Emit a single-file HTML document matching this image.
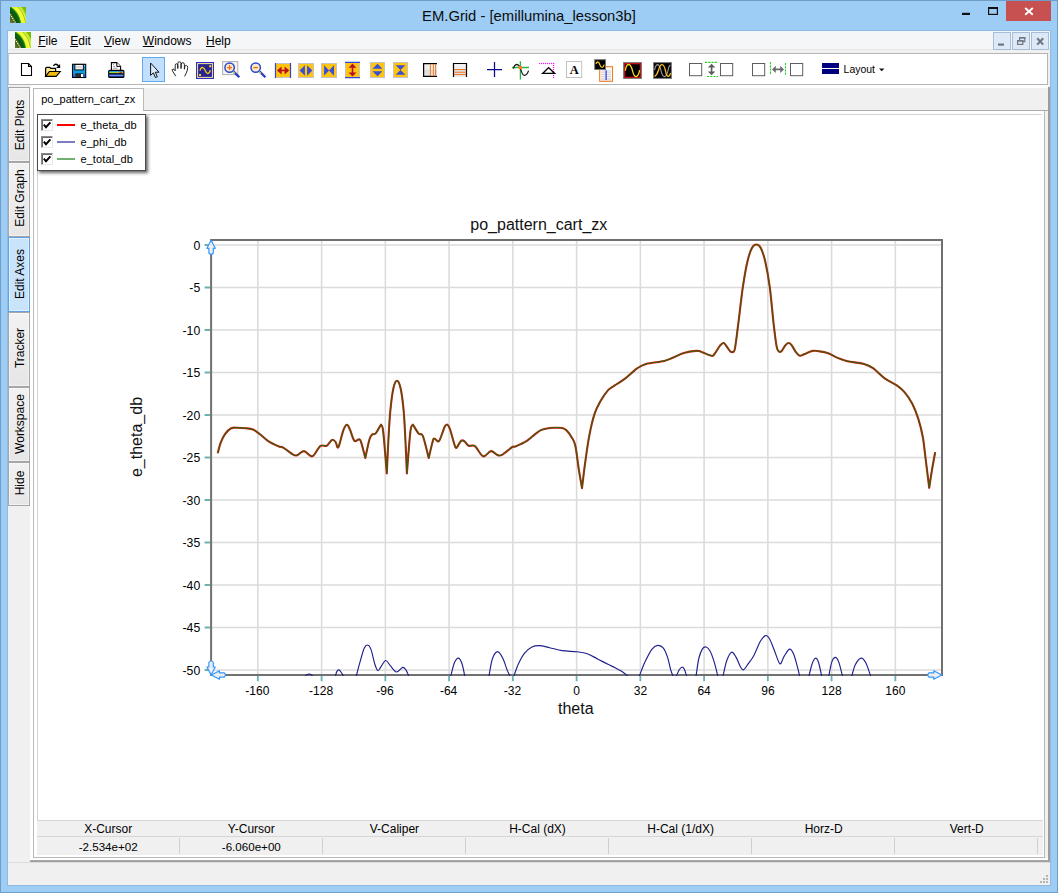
<!DOCTYPE html><html><head><meta charset="utf-8"><title>EM.Grid - [emillumina_lesson3b]</title><style>
html,body{margin:0;padding:0}
body{width:1058px;height:893px;overflow:hidden;position:relative;background:#9dcdf5;font-family:'Liberation Sans',sans-serif;font-size:12px;color:#000}
div,span{box-sizing:border-box}
.abs{position:absolute}
#frame{left:0;top:0;width:1058px;height:893px;border:1px solid #6f9dc9}
#client{left:8px;top:31px;width:1042px;height:854px;background:#f0f0f0}
#clientedge{left:7px;top:30px;width:1044px;height:856px;border:1px solid #8fbbe2}
#title{left:0;top:6px;width:1058px;text-align:center;font-size:14.8px;line-height:20px;color:#0c0c0c;letter-spacing:0px}
#menubar{left:8px;top:31px;width:1042px;height:22px;background:linear-gradient(#f5f6f7 0,#f5f6f7 17.6px,#e6e7e8 17.6px,#e6e7e8 18.6px,#f0f0f0 18.6px,#f0f0f0 100%)}
.menu{position:absolute;top:34px;font-size:12px;line-height:14px;white-space:nowrap}
.menu u{text-decoration:underline;text-underline-offset:1px}
#toolbar{left:8px;top:53px;width:1040px;height:32px;background:#fff;border:1px solid #b4b4b4;border-left-color:#c8c8c8}
.vtab{position:absolute;left:8px;width:22px;border:1px solid #a6a6a6;background:linear-gradient(#f2f2f2,#e6e6e6);box-shadow:inset 0 0 0 1px rgba(255,255,255,.45)}
.vtab span{position:absolute;left:calc(50% + 1.2px);top:50%;white-space:nowrap;transform:translate(-50%,-50%) rotate(-90deg);font-size:12px;line-height:14px}
#mdi{left:30px;top:85px;width:1018px;height:775px;background:#fff}
#mdishr{left:1048px;top:87px;width:2px;height:775px;background:#9c9c9c}
#mdishb{left:30px;top:860px;width:1020px;height:2px;background:linear-gradient(#ababab,#9a9a9a)}
#tabstrip{left:33px;top:88px;width:1015px;height:23px;background:#f0f0f0;border-bottom:1px solid #acacac}
#tab{left:33px;top:88px;width:111px;height:23px;background:#fff;border:1px solid #b9b9b9;border-bottom:none;font-size:11px;line-height:13px;padding:4px 0 0 7.2px;white-space:nowrap}
#panel{left:33px;top:111px;width:1012px;height:747px;border:1px solid #b9b9b9;border-top:none;background:#fff}
#inner{left:37px;top:114px;width:1005px;height:707px;border:1px solid #d2d2d2;border-right:none;border-bottom:none;background:#fff}
#table{left:37px;top:820px;width:1006px;height:35px;background:#f0f0f0;border-top:1px solid #d6d6d6}
#tline{left:37px;top:836px;width:1006px;height:1px;background:#d6d6d6}
.th{position:absolute;top:822px;width:143px;text-align:center;font-size:12px;line-height:14px;white-space:nowrap}
.td{position:absolute;top:840px;width:143px;text-align:center;font-size:11.6px;line-height:14px;white-space:nowrap}
.sep{position:absolute;top:838px;width:1px;height:16px;background:#cfcfcf}
#status{left:8px;top:862px;width:1042px;height:23px;background:#f0f0f0;border-top:1px solid #dcdcdc}
#legend{left:37px;top:114px;width:109px;height:57px;background:#fff;border:1px solid #4a4a4a;box-shadow:2px 2px 3px rgba(0,0,0,.6)}
.lg{position:absolute;left:42.4px;font-size:11px;line-height:13px;white-space:nowrap;letter-spacing:.12px}
.cb{position:absolute;left:3px;width:12px;height:12px;background:#fff;border:1px solid #8a8a8a;border-right-color:#e6e6e6;border-bottom-color:#e6e6e6;box-shadow:inset 1px 1px 0 #6a6a6a}
.ln{position:absolute;left:19px;width:18px;height:2px}
.mdib{position:absolute;top:32px;width:18px;height:18px;background:#dde9f6;border:1px solid #a8bdd6}
</style></head><body>
<div id="frame" class="abs"></div>
<div id="title" class="abs">EM.Grid - [emillumina_lesson3b]</div>
<svg style="position:absolute;left:10px;top:7px" width="16" height="16" viewBox="0 0 16 16" ><defs><radialGradient id="ig10" gradientUnits="userSpaceOnUse" cx="-11.4" cy="18.65" r="31" fx="-11.4" fy="18.65"><stop offset="0" stop-color="#5a7a12"/><stop offset=".54" stop-color="#4a6c10"/><stop offset=".57" stop-color="#0c5410"/><stop offset=".68" stop-color="#0e6412"/><stop offset=".715" stop-color="#3aa616"/><stop offset=".74" stop-color="#eef834"/><stop offset=".84" stop-color="#f6fc3c"/><stop offset=".865" stop-color="#8ec818"/><stop offset=".89" stop-color="#d8f044"/><stop offset=".93" stop-color="#c4e630"/><stop offset=".96" stop-color="#86c408"/><stop offset="1" stop-color="#7cbc00"/></radialGradient></defs><rect width="16" height="16" fill="url(#ig10)"/><path d="M0 7.2 L5.6 16" stroke="#f4f4e0" stroke-width="1.1" stroke-dasharray="1.2 1" fill="none"/><path d="M0 13.6 L1.8 16" stroke="#7a6a5a" stroke-width="1.4" fill="none"/></svg>
<div class="abs" style="left:1006px;top:1px;width:45px;height:20px;background:#c75050"></div>
<svg class="abs" style="left:950px;top:0" width="100" height="24" viewBox="950 0 100 24"><rect x="962" y="12.8" width="8" height="2.2" fill="#111"/><rect x="988.6" y="8" width="8.8" height="6.4" fill="none" stroke="#111" stroke-width="1.2"/><rect x="988" y="7" width="10" height="2" fill="#111"/><path d="M1025.2 8 L1032.8 14.8 M1032.8 8 L1025.2 14.8" stroke="#fff" stroke-width="1.9"/></svg>
<div id="clientedge" class="abs"></div>
<div id="client" class="abs"></div>
<div id="menubar" class="abs"></div>
<svg style="position:absolute;left:15px;top:32px" width="16" height="16" viewBox="0 0 16 16" ><defs><radialGradient id="ig15" gradientUnits="userSpaceOnUse" cx="-11.4" cy="18.65" r="31" fx="-11.4" fy="18.65"><stop offset="0" stop-color="#5a7a12"/><stop offset=".54" stop-color="#4a6c10"/><stop offset=".57" stop-color="#0c5410"/><stop offset=".68" stop-color="#0e6412"/><stop offset=".715" stop-color="#3aa616"/><stop offset=".74" stop-color="#eef834"/><stop offset=".84" stop-color="#f6fc3c"/><stop offset=".865" stop-color="#8ec818"/><stop offset=".89" stop-color="#d8f044"/><stop offset=".93" stop-color="#c4e630"/><stop offset=".96" stop-color="#86c408"/><stop offset="1" stop-color="#7cbc00"/></radialGradient></defs><rect width="16" height="16" fill="url(#ig15)"/><path d="M0 7.2 L5.6 16" stroke="#f4f4e0" stroke-width="1.1" stroke-dasharray="1.2 1" fill="none"/><path d="M0 13.6 L1.8 16" stroke="#7a6a5a" stroke-width="1.4" fill="none"/></svg>
<div class="menu" style="left:38.2px"><u>F</u>ile</div>
<div class="menu" style="left:70.2px"><u>E</u>dit</div>
<div class="menu" style="left:104px"><u>V</u>iew</div>
<div class="menu" style="left:142.8px"><u>W</u>indows</div>
<div class="menu" style="left:206px"><u>H</u>elp</div>
<div class="mdib" style="left:993px"></div>
<div class="mdib" style="left:1012px"></div>
<div class="mdib" style="left:1031px"></div>
<svg class="abs" style="left:990px;top:31px" width="60" height="22" viewBox="990 31 60 22"><rect x="998" y="43.5" width="6" height="2.2" fill="#6f7782"/><rect x="1019.6" y="37.6" width="5.2" height="4" fill="none" stroke="#6f7782" stroke-width="1.2"/><rect x="1019" y="37" width="6.4" height="1.6" fill="#6f7782"/><rect x="1017.6" y="40.6" width="5.2" height="3.8" fill="#dde9f6" stroke="#6f7782" stroke-width="1.2"/><rect x="1017" y="40" width="6.4" height="1.6" fill="#6f7782"/><path d="M1037.2 38.2 L1043.2 44.6 M1043.2 38.2 L1037.2 44.6" stroke="#6f7782" stroke-width="2.1"/></svg>
<div id="toolbar" class="abs"></div>
<svg style="position:absolute;left:0;top:54px" width="1058" height="31" viewBox="0 54 1058 31" font-family="'Liberation Sans',sans-serif">
<path d="M21.5 63.5 H28.5 L31.5 66.5 V75.5 H21.5 Z" fill="#fff" stroke="#000" stroke-width="1.1"/><path d="M28.5 63.5 V66.5 H31.5" fill="none" stroke="#000" stroke-width="1.1"/>
<path d="M45.6 76.2 V68.2 L46.6 67.3 H49.8 L50.8 68.4 H55.6 V71.2" fill="#fde88c" stroke="#000" stroke-width="1.25"/><path d="M45.6 76.3 L49.4 71.5 H60.2 L56.2 76.3 Z" fill="#f2bc0c" stroke="#000" stroke-width="1.15"/><path d="M53.4 65.8 Q55.8 62.6 58.6 66" fill="none" stroke="#000" stroke-width="1.35"/><path d="M60.1 63.9 V67.9 H56.1 Z" fill="#000"/>
<rect x="72.5" y="64.3" width="13.2" height="13.2" fill="#0a9fe6" stroke="#000" stroke-width="1.1"/><rect x="72.9" y="74.5" width="1.6" height="2.4" fill="#3344dd"/><rect x="83.7" y="74.5" width="1.6" height="2.4" fill="#3344dd"/><rect x="74.9" y="64.4" width="8.4" height="5.5" fill="#fff" stroke="#000" stroke-width=".95"/><rect x="76.2" y="65.8" width="5.6" height="2.6" fill="#d9d9d9"/><rect x="75.3" y="73.2" width="8" height="4" fill="#2c2c2c"/><rect x="81" y="74" width="2" height="3" fill="#fff"/><rect x="84.2" y="65.2" width="0.9" height="0.9" fill="#cfe8ff"/>
<path d="M111.4 70.4 V62.6 H116.8 L120.6 66.4 V70.4" fill="#fff" stroke="#000" stroke-width="1.1"/><path d="M116.8 62.6 V66.4 H120.6" fill="#fff" stroke="#000" stroke-width="1"/><path d="M113 64.5 h1 M113 66.3 h2.2 M113 68.2 h4.5" stroke="#888" stroke-width=".8"/><rect x="108.7" y="70.4" width="15.2" height="7" rx="1" fill="#2a4fd0" stroke="#000" stroke-width="1.1"/><rect x="109.4" y="71.3" width="13.8" height="1" fill="#22c8e8"/><rect x="109.4" y="72.1" width="13.8" height="1.1" fill="#b8e020"/><rect x="119.5" y="71.6" width="2.6" height="1.4" fill="#f03020"/><rect x="109.2" y="73.3" width="14.2" height="1.3" fill="#000"/><rect x="109.4" y="74.7" width="13.8" height="1.2" fill="#6a94ec"/>
<rect x="142.5" y="57.5" width="22" height="24" fill="#c1e0ff" stroke="#62a8ec" stroke-width="1"/>
<path d="M150.6 63 V75.4 L153.4 72.8 L155.4 77.6 L157.3 76.8 L155.3 72.2 H159 Z" fill="#dcedff" stroke="#111" stroke-width="1" stroke-linejoin="miter"/>
<path d="M175.8 76.2 L172.6 71.2 Q171.6 69.4 172.8 69 Q174 68.8 175.2 70.8 L175.2 65.2 Q175.3 63.8 176.5 63.8 Q177.7 63.9 177.8 65.2 L177.8 68.6 L177.8 63.2 Q177.9 61.8 179.4 61.8 Q180.9 61.9 181 63.2 L181 68.6 L181.2 64 Q181.4 62.6 182.9 62.7 Q184.3 62.9 184.4 64.2 L184.4 69.2 L184.8 66.6 Q185.2 65.3 186.4 65.5 Q187.7 65.8 187.7 67.4 Q187.6 70.2 186.4 72.8 Q185.2 75.2 184.6 76.4" fill="#fff" stroke="#1a1a1a" stroke-width="0.95" stroke-linejoin="round"/>
<rect x="196.5" y="62.5" width="17" height="16" fill="#26268e" stroke="#3030c8" stroke-width="1"/><rect x="197.6" y="63.6" width="14.8" height="13.8" fill="none" stroke="#ffe79a" stroke-width="1"/><path d="M200 70.6 Q200.8 67.3 202.4 67.3 Q204 67.5 205.2 70.6 Q206.4 73.7 207.8 73.7 Q209.4 73.5 210.3 70.2" fill="none" stroke="#ffd21c" stroke-width="1.25"/><rect x="199" y="74" width="2" height="2" fill="#ffd21c"/><rect x="209.2" y="65.2" width="2" height="2" fill="#ffd21c"/>
<rect x="222.6" y="61.6" width="15.2" height="13" fill="#f4f4f4" stroke="#b0b0b0" stroke-width="1"/>
<path d="M233.6 71.6 L239.3 77.3" stroke="#2b3bc4" stroke-width="2.3"/>
<path d="M233.2 71.8 l1.6 1.6" stroke="#b8e034" stroke-width="1.4"/>
<circle cx="229.6" cy="67.6" r="4.7" fill="#f6edc6" stroke="#3246cf" stroke-width="1.5"/>
<path d="M227.2 67.6 h4.8" stroke="#ff6a10" stroke-width="1.3"/>
<path d="M229.6 65.2 v4.8" stroke="#ff6a10" stroke-width="1.3"/>
<path d="M259.7 71.6 L265.4 77.3" stroke="#2b3bc4" stroke-width="2.3"/>
<path d="M259.3 71.8 l1.6 1.6" stroke="#b8e034" stroke-width="1.4"/>
<circle cx="255.7" cy="67.6" r="4.7" fill="#f6edc6" stroke="#3246cf" stroke-width="1.5"/>
<path d="M253.3 67.6 h4.8" stroke="#ff6a10" stroke-width="1.3"/>
<rect x="275.5" y="63.5" width="15" height="14" fill="#ffc410" stroke="#c4c4c4" stroke-width="1"/>
<path d="M275.5 63 V78 M290.5 63 V78" stroke="#3344d6" stroke-width="1.2"/>
<path d="M277 70.5 L281.6 66.4 V69.7 H284.6 V66.4 L289.2 70.5 L284.6 74.6 V71.3 H281.6 V74.6 Z" fill="#b80f1e"/>
<rect x="298.5" y="63.5" width="15" height="14" fill="#ffc410" stroke="#c4c4c4" stroke-width="1"/>
<path d="M299.6 70.5 L304.9 65.2 V75.8 Z M312.4 70.5 L307.1 65.2 V75.8 Z" fill="#3a4fd2"/>
<rect x="321.5" y="63.5" width="15" height="14" fill="#ffc410" stroke="#c4c4c4" stroke-width="1"/>
<path d="M324.1 65.3 L329.1 70.5 L324.1 75.7 Z M334 65.3 L329 70.5 L334 75.7 Z" fill="#3a4fd2"/>
<rect x="345.5" y="62.5" width="14" height="15" fill="#ffc410" stroke="#c4c4c4" stroke-width="1"/>
<path d="M345 62.4 H360 M345 77.6 H360" stroke="#3344d6" stroke-width="1.2"/>
<path d="M352.5 63.6 L356.4 67.8 H353.3 V72.4 H356.4 L352.5 76.6 L348.6 72.4 H351.7 V67.8 H348.6 Z" fill="#b80f1e"/>
<rect x="370.5" y="62.5" width="14" height="15" fill="#ffc410" stroke="#c4c4c4" stroke-width="1"/>
<path d="M377.5 63.8 L382.5 68.8 H372.5 Z M377.5 76.3 L382.5 71.3 H372.5 Z" fill="#3a4fd2"/>
<rect x="393.5" y="62.5" width="14" height="15" fill="#ffc410" stroke="#c4c4c4" stroke-width="1"/>
<path d="M395.7 65.2 H405.3 L400.5 70 Z M395.7 74.8 H405.3 L400.5 70 Z" fill="#3a4fd2"/>
<defs><linearGradient id="gg" x1="0" y1="0" x2="0" y2="1"><stop offset="0" stop-color="#f2f2f2"/><stop offset=".5" stop-color="#ececec"/><stop offset=".51" stop-color="#dcdcdc"/><stop offset="1" stop-color="#e6e6e6"/></linearGradient></defs>
<rect x="423.6" y="63.6" width="13.4" height="12.8" fill="url(#gg)"/><path d="M437 63.6 H423.6 V76.4 H437" fill="none" stroke="#000" stroke-width="1.2"/>
<path d="M430.4 64.2 V75.8 M433.4 64.2 V75.8 M435.6 64.2 V75.8" stroke="#f47820" stroke-width="1"/>
<rect x="453.5" y="63.5" width="13" height="13.4" fill="url(#gg)"/><path d="M453.5 77 V63.5 H466.5 V77" fill="none" stroke="#000" stroke-width="1.2"/>
<path d="M454.1 69.5 H465.9 M454.1 72.3 H465.9 M454.1 74.5 H465.9" stroke="#f47820" stroke-width="1.1"/>
<path d="M487 69.5 H502 M494.5 62 V77" stroke="#0a0a86" stroke-width="1.25"/>
<path d="M520.4 61.2 V79.5 M512 67.5 H529" stroke="#28b84a" stroke-width="1.3"/>
<path d="M513.4 68.6 Q514.6 64.6 516.6 64.4 Q518.6 64.4 520.2 67.6 Q522.2 75.4 524.6 75.4 Q527 75.2 528.6 70.6" fill="none" stroke="#111" stroke-width="1.2"/>
<rect x="518.8" y="66" width="3.2" height="3.2" fill="#ff7a18"/>
<rect x="539" y="62.9" width="1.1" height="1.2" fill="#ff10ff"/><rect x="541" y="62.9" width="1.1" height="1.2" fill="#ff10ff"/><rect x="543" y="62.9" width="1.1" height="1.2" fill="#ff10ff"/><rect x="545" y="62.9" width="1.1" height="1.2" fill="#ff10ff"/><rect x="547" y="62.9" width="1.1" height="1.2" fill="#ff10ff"/><rect x="549" y="62.9" width="1.1" height="1.2" fill="#ff10ff"/><rect x="551" y="62.9" width="1.1" height="1.2" fill="#ff10ff"/><rect x="553" y="62.9" width="1.1" height="1.2" fill="#ff10ff"/><rect x="552.9" y="63" width="1.3" height="1.1" fill="#ff10ff"/><rect x="552.9" y="65" width="1.3" height="1.1" fill="#ff10ff"/><rect x="552.9" y="67" width="1.3" height="1.1" fill="#ff10ff"/><rect x="552.9" y="69" width="1.3" height="1.1" fill="#ff10ff"/><rect x="552.9" y="71" width="1.3" height="1.1" fill="#ff10ff"/><rect x="552.9" y="73" width="1.3" height="1.1" fill="#ff10ff"/><rect x="552.9" y="75" width="1.3" height="1.1" fill="#ff10ff"/><rect x="552.9" y="77" width="1.3" height="1.1" fill="#ff10ff"/>
<path d="M542.6 73.4 L548.6 67.6 L554.6 73.4 Z" fill="none" stroke="#000" stroke-width="1.4" stroke-linejoin="miter"/>
<rect x="566.5" y="61.5" width="15.2" height="16" fill="#fff" stroke="#c2c2c2" stroke-width="1"/>
<text x="574.2" y="74" font-family="'Liberation Serif',serif" font-weight="bold" font-size="12.4" text-anchor="middle" fill="#000">A</text>
<rect x="599.7" y="66.7" width="12.8" height="14.6" fill="#fff" stroke="#f47a20" stroke-width="1.1"/>
<path d="M601.2 71 H611 M601.2 72.8 H611 M601.2 74.6 H611 M601.2 76.4 H611 M601.2 78.2 H611 M601.2 79.8 H611" stroke="#c8c8c8" stroke-width=".9"/><rect x="605" y="70" width="2.2" height="10.6" fill="#fff"/><path d="M606.1 70.2 V80.2" stroke="#2828e0" stroke-width="1.25"/>
<rect x="594.7" y="59.7" width="10.8" height="9.8" fill="#000" stroke="#777" stroke-width="1"/>
<path d="M596 64 Q596.4 61.8 597.8 61.8 Q599.2 62 599.8 64.6 Q600.6 67.4 602 67.4 Q603.6 67.2 604.2 64.6" fill="none" stroke="#ffd21c" stroke-width="1.2"/>
<rect x="623.6" y="62.6" width="17.8" height="15.8" fill="#000" stroke="#7a7a7a" stroke-width="1"/><rect x="624.7" y="63.7" width="15.6" height="13.6" fill="none" stroke="#e8101c" stroke-width="1.1"/>
<path d="M625.4 70.6 Q626.2 64.4 628.6 64.3 Q631 64.5 632.4 70.4 Q633.8 76.6 636 76.6 Q638.6 76.4 639.6 70.2" fill="none" stroke="#ffe21c" stroke-width="1.25"/>
<rect x="653.6" y="62.6" width="17.8" height="15.8" fill="#000" stroke="#7a7a7a" stroke-width="1"/>
<path d="M654.6 70 Q655.6 64.6 657.6 64.6 Q659.8 64.8 661 70.6 Q662.4 76.6 664.6 76.6 Q667 76.2 668.2 69.6 Q669 65.6 670.4 65" fill="none" stroke="#9a9a9a" stroke-width="1.1"/>
<path d="M654.6 76.6 Q657 75 658.6 70 Q660 64.5 662 64.5 Q664.2 64.8 665.4 70.6 Q666.6 76.6 668.4 76.4 Q669.8 76 670.6 73" fill="none" stroke="#ffc21c" stroke-width="1.25"/>
<rect x="689.5" y="63.5" width="12.2" height="12.2" fill="#fff" stroke="#5e5e5e" stroke-width="1"/>
<rect x="720.5" y="63.5" width="12.2" height="12.2" fill="#fff" stroke="#5e5e5e" stroke-width="1"/>
<rect x="752.5" y="63.5" width="12.2" height="12.2" fill="#fff" stroke="#5e5e5e" stroke-width="1"/>
<rect x="790.5" y="63.5" width="12.2" height="12.2" fill="#fff" stroke="#5e5e5e" stroke-width="1"/>
<path d="M705 62.4 H718 M707 76.5 H718" stroke="#22d022" stroke-width="1.1" stroke-dasharray="2.2 1"/>
<path d="M711.6 63.8 L715.3 67.6 H712.4 V71.4 H715.3 L711.6 75.2 L707.9 71.4 H710.8 V67.6 H707.9 Z" fill="#5c5c5c"/>
<path d="M770.5 62 V75 M785.5 63 V75" stroke="#22d022" stroke-width="1.1" stroke-dasharray="2.2 1"/>
<path d="M772 69.4 L775.8 65.7 V68.6 H780.2 V65.7 L784 69.4 L780.2 73.1 V70.2 H775.8 V73.1 Z" fill="#6c6c6c"/>
<rect x="822" y="63" width="17" height="5" fill="#00007e"/><rect x="822" y="69" width="17" height="5" fill="#00007e"/>
<text x="843.6" y="72.8" font-size="11" fill="#000" textLength="31.4" lengthAdjust="spacingAndGlyphs">Layout</text>
<path d="M879 68.4 H884.4 L881.7 71.2 Z" fill="#111"/>
</svg>
<div class="vtab" style="top:87px;height:75px;"><span style="margin-top:0px">Edit Plots</span></div>
<div class="vtab" style="top:162px;height:75px;"><span style="margin-top:-1.4px">Edit Graph</span></div>
<div class="vtab" style="top:237px;height:75px;background:#c9e3fb;border-color:#5fa2e6;z-index:2;"><span style="margin-top:-0.8px">Edit Axes</span></div>
<div class="vtab" style="top:312px;height:75px;"><span style="margin-top:-1.8px">Tracker</span></div>
<div class="vtab" style="top:387px;height:75px;"><span style="margin-top:-1px">Workspace</span></div>
<div class="vtab" style="top:462px;height:44px;"><span style="margin-top:-0.8px">Hide</span></div>
<div id="mdi" class="abs"></div><div id="mdishr" class="abs"></div><div id="mdishb" class="abs"></div>
<div class="abs" style="left:1045px;top:88px;width:3px;height:770px;background:#f1f1f1"></div>
<div id="tabstrip" class="abs"></div>
<div id="panel" class="abs"></div>
<div id="tab" class="abs">po_pattern_cart_zx</div>
<div id="inner" class="abs"></div>
<div id="table" class="abs"></div><div id="tline" class="abs"></div>
<div class="th" style="left:36.7px">X-Cursor</div>
<div class="td" style="left:36.7px">-2.534e+02</div>
<div class="sep" style="left:179px"></div>
<div class="th" style="left:179.8px">Y-Cursor</div>
<div class="td" style="left:179.8px">-6.060e+00</div>
<div class="sep" style="left:322px"></div>
<div class="th" style="left:322.9px">V-Caliper</div>
<div class="sep" style="left:465px"></div>
<div class="th" style="left:466.0px">H-Cal (dX)</div>
<div class="sep" style="left:608px"></div>
<div class="th" style="left:609.1px">H-Cal (1/dX)</div>
<div class="sep" style="left:751px"></div>
<div class="th" style="left:752.2px">Horz-D</div>
<div class="sep" style="left:894px"></div>
<div class="th" style="left:895.3px">Vert-D</div>
<div class="sep" style="left:1037px"></div>
<div id="status" class="abs"></div>
<svg class="abs" style="left:1036px;top:872px" width="14" height="13" viewBox="1036 872 14 13"><rect x="1046" y="875" width="2" height="2" fill="#b4b4b4"/><rect x="1043" y="878" width="2" height="2" fill="#b4b4b4"/><rect x="1046" y="878" width="2" height="2" fill="#b4b4b4"/><rect x="1040" y="881" width="2" height="2" fill="#b4b4b4"/><rect x="1043" y="881" width="2" height="2" fill="#b4b4b4"/><rect x="1046" y="881" width="2" height="2" fill="#b4b4b4"/></svg>
<svg class="chart" width="1058" height="893" viewBox="0 0 1058 893" style="position:absolute;left:0;top:0" font-family="'Liberation Sans',sans-serif">
<defs><clipPath id="pc"><rect x="211.1" y="240.0" width="730.9" height="436.0"/></clipPath></defs>
<path d="M257.85 240.0 V675.0 M321.60 240.0 V675.0 M385.35 240.0 V675.0 M449.10 240.0 V675.0 M512.85 240.0 V675.0 M576.60 240.0 V675.0 M640.35 240.0 V675.0 M704.10 240.0 V675.0 M767.85 240.0 V675.0 M831.60 240.0 V675.0 M895.35 240.0 V675.0 M211.1 245.00 H942.0 M211.1 287.50 H942.0 M211.1 330.00 H942.0 M211.1 372.50 H942.0 M211.1 415.00 H942.0 M211.1 457.50 H942.0 M211.1 500.00 H942.0 M211.1 542.50 H942.0 M211.1 585.00 H942.0 M211.1 627.50 H942.0 M211.1 670.00 H942.0" stroke="#dbdbdb" stroke-width="1.55" fill="none"/>
<path d="M257.85 675.8 V681.2 M321.60 675.8 V681.2 M385.35 675.8 V681.2 M449.10 675.8 V681.2 M512.85 675.8 V681.2 M576.60 675.8 V681.2 M640.35 675.8 V681.2 M704.10 675.8 V681.2 M767.85 675.8 V681.2 M831.60 675.8 V681.2 M895.35 675.8 V681.2 M204.6 245.00 H210.1 M204.6 287.50 H210.1 M204.6 330.00 H210.1 M204.6 372.50 H210.1 M204.6 415.00 H210.1 M204.6 457.50 H210.1 M204.6 500.00 H210.1 M204.6 542.50 H210.1 M204.6 585.00 H210.1 M204.6 627.50 H210.1 M204.6 670.00 H210.1" stroke="#6cb1b1" stroke-width="1.8" fill="none"/>
<rect x="211.1" y="240.0" width="730.9" height="435.0" fill="none" stroke="#707070" stroke-width="2"/>
<g clip-path="url(#pc)" fill="none" stroke-linejoin="round">
<path d="M304.50 681.00 C304.68 680.12 304.82 676.85 305.60 675.70 C306.38 674.55 308.08 674.10 309.20 674.10 C310.32 674.10 311.58 674.55 312.30 675.70 C313.02 676.85 313.30 680.12 313.50 681.00" stroke="#20208c" stroke-width="1.15"/>
<path d="M334.50 681.00 C334.68 680.12 335.22 677.27 335.60 675.70 C335.98 674.13 336.25 672.57 336.80 671.60 C337.35 670.63 338.20 669.83 338.90 669.90 C339.60 669.97 340.30 671.03 341.00 672.00 C341.70 672.97 342.57 674.20 343.10 675.70 C343.63 677.20 344.02 680.12 344.20 681.00" stroke="#20208c" stroke-width="1.15"/>
<path d="M355.20 681.00 C355.40 680.12 355.58 678.93 356.40 675.70 C357.22 672.47 358.78 666.20 360.10 661.60 C361.42 657.00 363.05 650.87 364.30 648.10 C365.55 645.33 366.50 644.83 367.60 645.00 C368.70 645.17 369.72 645.98 370.90 649.10 C372.08 652.22 373.55 660.13 374.70 663.70 C375.85 667.27 376.77 669.98 377.80 670.50 C378.83 671.02 379.58 668.47 380.90 666.80 C382.22 665.13 384.13 660.68 385.70 660.50 C387.27 660.32 388.50 663.78 390.30 665.70 C392.10 667.62 394.43 671.72 396.50 672.00 C398.57 672.28 401.13 667.75 402.70 667.40 C404.27 667.05 404.92 668.52 405.90 669.90 C406.88 671.28 407.83 673.85 408.60 675.70 C409.37 677.55 410.18 680.12 410.50 681.00" stroke="#20208c" stroke-width="1.15"/>
<path d="M449.80 681.00 C449.98 680.12 450.12 678.77 450.90 675.70 C451.68 672.63 453.22 665.53 454.50 662.60 C455.78 659.67 457.35 657.92 458.60 658.10 C459.85 658.28 460.98 660.77 462.00 663.70 C463.02 666.63 464.10 672.82 464.70 675.70 C465.30 678.58 465.45 680.12 465.60 681.00" stroke="#20208c" stroke-width="1.15"/>
<path d="M488.00 681.00 C488.17 680.12 488.25 679.45 489.00 675.70 C489.75 671.95 491.05 662.52 492.50 658.50 C493.95 654.48 495.97 651.60 497.70 651.60 C499.43 651.60 501.33 655.45 502.90 658.50 C504.47 661.55 505.95 667.03 507.10 669.90 C508.25 672.77 509.07 673.85 509.80 675.70 C510.53 677.55 511.22 680.12 511.50 681.00" stroke="#20208c" stroke-width="1.15"/>
<path d="M512.20 681.00 C512.50 680.12 512.95 678.58 514.00 675.70 C515.05 672.82 516.70 667.50 518.50 663.70 C520.30 659.90 522.55 655.68 524.80 652.90 C527.05 650.12 529.58 648.22 532.00 647.00 C534.42 645.78 536.35 645.48 539.30 645.60 C542.25 645.72 545.88 646.87 549.70 647.70 C553.52 648.53 557.68 649.92 562.20 650.60 C566.72 651.28 572.63 651.28 576.80 651.80 C580.97 652.32 583.75 652.52 587.20 653.70 C590.65 654.88 594.05 657.13 597.50 658.90 C600.95 660.67 605.05 662.87 607.90 664.30 C610.75 665.73 612.45 666.42 614.60 667.50 C616.75 668.58 618.67 669.43 620.80 670.80 C622.93 672.17 625.20 674.00 627.40 675.70 C629.60 677.40 632.90 680.12 634.00 681.00" stroke="#20208c" stroke-width="1.15"/>
<path d="M637.40 681.00 C637.75 680.12 638.28 678.77 639.50 675.70 C640.72 672.63 642.62 667.03 644.70 662.60 C646.78 658.17 649.82 651.97 652.00 649.10 C654.18 646.23 655.90 645.57 657.80 645.40 C659.70 645.23 661.77 646.10 663.40 648.10 C665.03 650.10 666.38 653.77 667.60 657.40 C668.82 661.03 669.83 666.85 670.70 669.90 C671.57 672.95 672.20 673.85 672.80 675.70 C673.40 677.55 674.05 680.12 674.30 681.00" stroke="#20208c" stroke-width="1.15"/>
<path d="M674.60 681.00 C674.92 680.12 675.70 677.62 676.50 675.70 C677.30 673.78 678.47 670.92 679.40 669.50 C680.33 668.08 681.30 667.30 682.10 667.20 C682.90 667.10 683.47 667.48 684.20 668.90 C684.93 670.32 685.93 673.68 686.50 675.70 C687.07 677.72 687.42 680.12 687.60 681.00" stroke="#20208c" stroke-width="1.15"/>
<path d="M695.20 681.00 C695.35 680.12 695.50 679.45 696.10 675.70 C696.70 671.95 697.77 662.93 698.80 658.50 C699.83 654.07 701.08 651.02 702.30 649.10 C703.52 647.18 704.78 646.65 706.10 647.00 C707.42 647.35 708.82 648.60 710.20 651.20 C711.58 653.80 713.15 658.52 714.40 662.60 C715.65 666.68 716.97 672.63 717.70 675.70 C718.43 678.77 718.62 680.12 718.80 681.00" stroke="#20208c" stroke-width="1.15"/>
<path d="M721.90 681.00 C722.10 680.12 722.28 679.12 723.10 675.70 C723.92 672.28 725.38 664.42 726.80 660.50 C728.22 656.58 730.03 652.72 731.60 652.20 C733.17 651.68 734.73 654.97 736.20 657.40 C737.67 659.83 739.18 664.72 740.40 666.80 C741.62 668.88 742.30 670.25 743.50 669.90 C744.70 669.55 745.87 667.12 747.60 664.70 C749.33 662.28 751.82 659.22 753.90 655.40 C755.98 651.58 758.20 645.10 760.10 641.80 C762.00 638.50 763.73 636.12 765.30 635.60 C766.87 635.08 767.93 636.10 769.50 638.70 C771.07 641.30 772.97 647.03 774.70 651.20 C776.43 655.37 778.33 662.83 779.90 663.70 C781.47 664.57 782.50 658.83 784.10 656.40 C785.70 653.97 787.93 649.53 789.50 649.10 C791.07 648.67 792.23 651.03 793.50 653.80 C794.77 656.57 796.09 662.05 797.10 665.70 C798.11 669.35 798.97 673.15 799.55 675.70 C800.13 678.25 800.42 680.12 800.60 681.00" stroke="#20208c" stroke-width="1.15"/>
<path d="M807.80 681.00 C808.01 680.12 808.32 678.58 809.05 675.70 C809.77 672.82 811.11 666.62 812.15 663.70 C813.19 660.78 814.26 658.48 815.30 658.20 C816.34 657.92 817.35 659.08 818.40 662.00 C819.45 664.92 820.90 672.53 821.60 675.70 C822.30 678.87 822.43 680.12 822.60 681.00" stroke="#20208c" stroke-width="1.15"/>
<path d="M827.70 681.00 C827.90 680.12 828.25 678.77 828.90 675.70 C829.55 672.63 830.57 665.65 831.60 662.60 C832.63 659.55 833.93 657.57 835.10 657.40 C836.27 657.23 837.38 658.55 838.60 661.60 C839.82 664.65 841.57 672.47 842.40 675.70 C843.23 678.93 843.40 680.12 843.60 681.00" stroke="#20208c" stroke-width="1.15"/>
<path d="M850.50 681.00 C850.73 680.12 851.10 678.42 851.90 675.70 C852.70 672.98 853.77 667.63 855.30 664.70 C856.83 661.77 859.37 658.45 861.10 658.10 C862.83 657.75 864.13 659.67 865.70 662.60 C867.27 665.53 869.45 672.63 870.50 675.70 C871.55 678.77 871.75 680.12 872.00 681.00" stroke="#20208c" stroke-width="1.15"/>
<path d="M217.70 453.20 C218.22 451.40 219.58 445.58 220.80 442.40 C222.02 439.22 223.27 436.47 225.00 434.10 C226.73 431.73 229.03 429.25 231.20 428.20 C233.37 427.15 235.58 427.80 238.00 427.80 C240.42 427.80 243.20 427.92 245.70 428.20 C248.20 428.48 250.57 428.45 253.00 429.50 C255.43 430.55 257.70 432.53 260.30 434.50 C262.90 436.47 265.48 439.30 268.60 441.30 C271.72 443.30 276.57 445.45 279.00 446.50 C281.43 447.55 280.77 446.20 283.20 447.60 C285.63 449.00 291.18 453.68 293.60 454.90 C296.02 456.12 295.97 455.53 297.70 454.90 C299.43 454.27 301.57 450.87 304.00 451.10 C306.43 451.33 309.60 457.13 312.30 456.30 C315.00 455.47 317.78 447.87 320.20 446.10 C322.62 444.33 324.83 446.73 326.80 445.70 C328.77 444.67 330.53 440.52 332.00 439.90 C333.47 439.28 334.73 440.82 335.60 442.00 C336.47 443.18 336.93 446.17 337.20 447.00 L337.20 447.00 C337.48 446.85 337.85 448.95 338.90 446.10 C339.95 443.25 342.15 433.47 343.50 429.90 C344.85 426.33 345.90 424.70 347.00 424.70 C348.10 424.70 348.88 427.23 350.10 429.90 C351.32 432.57 352.80 439.13 354.30 440.70 C355.80 442.27 357.95 439.02 359.10 439.30 C360.25 439.58 360.17 439.28 361.20 442.40 C362.23 445.52 364.62 455.40 365.30 458.00 L365.30 458.00 C366.00 454.88 368.35 443.22 369.50 439.30 C370.65 435.38 371.17 435.48 372.20 434.50 C373.23 433.52 374.25 435.03 375.70 433.40 C377.15 431.77 380.03 426.15 380.90 424.70 L380.90 424.70 C381.28 425.83 382.22 423.38 383.20 431.50 C384.18 439.62 386.20 466.42 386.80 473.40 L386.80 473.40 C387.07 467.83 387.82 450.37 388.40 440.00 C388.98 429.63 389.47 419.82 390.30 411.20 C391.13 402.58 392.28 393.38 393.40 388.30 C394.52 383.22 395.80 380.70 397.00 380.70 C398.20 380.70 399.48 383.22 400.60 388.30 C401.72 393.38 402.90 402.58 403.70 411.20 C404.50 419.82 404.87 429.63 405.40 440.00 C405.93 450.37 406.65 467.83 406.90 473.40 L406.90 473.40 C407.48 466.42 409.38 439.62 410.40 431.50 C411.42 423.38 412.57 425.83 413.00 424.70 L413.00 424.70 C413.95 426.18 417.05 431.70 418.70 433.60 C420.35 435.50 421.23 432.03 422.90 436.10 C424.57 440.17 427.73 454.35 428.70 458.00 L428.70 458.00 C429.40 455.12 431.87 443.90 432.90 440.70 C433.93 437.50 433.87 438.77 434.90 438.80 C435.93 438.83 437.47 442.90 439.10 440.90 C440.73 438.90 443.32 429.50 444.70 426.80 C446.08 424.10 446.53 424.35 447.40 424.70 C448.27 425.05 448.62 425.27 449.90 428.90 C451.18 432.53 453.88 443.48 455.10 446.50 C456.32 449.52 456.85 446.92 457.20 447.00 L457.20 447.00 C457.88 445.95 460.08 441.65 461.30 440.70 C462.52 439.75 463.28 440.47 464.50 441.30 C465.72 442.13 466.87 444.90 468.60 445.70 C470.33 446.50 472.47 444.33 474.90 446.10 C477.33 447.87 480.53 455.47 483.20 456.30 C485.87 457.13 488.55 451.33 490.90 451.10 C493.25 450.87 495.47 454.27 497.30 454.90 C499.13 455.53 499.40 456.22 501.90 454.90 C504.40 453.58 510.05 448.40 512.30 447.00 C514.55 445.60 512.98 447.52 515.40 446.50 C517.82 445.48 523.50 442.97 526.80 440.90 C530.10 438.83 532.77 435.93 535.20 434.10 C537.63 432.27 538.98 430.92 541.40 429.90 C543.82 428.88 547.27 428.37 549.70 428.00 C552.13 427.63 553.92 427.70 556.00 427.70 C558.08 427.70 560.47 427.57 562.20 428.00 C563.93 428.43 564.83 428.77 566.40 430.30 C567.97 431.83 570.12 434.67 571.60 437.20 C573.08 439.73 574.10 440.13 575.30 445.50 C576.50 450.87 577.68 462.30 578.80 469.40 C579.92 476.50 581.47 484.98 582.00 488.10 L582.00 488.10 C582.52 483.95 583.90 471.87 585.10 463.20 C586.30 454.53 587.65 444.25 589.20 436.10 C590.75 427.95 592.48 420.18 594.40 414.30 C596.32 408.42 598.45 404.78 600.70 400.80 C602.95 396.82 605.62 392.93 607.90 390.40 C610.18 387.87 611.55 387.55 614.40 385.60 C617.25 383.65 621.22 381.57 625.00 378.70 C628.78 375.83 633.58 370.87 637.10 368.40 C640.62 365.93 641.57 365.15 646.10 363.90 C650.63 362.65 659.77 361.97 664.30 360.90 C668.83 359.83 670.03 358.82 673.30 357.50 C676.57 356.18 680.12 354.10 683.90 353.00 C687.68 351.90 693.23 351.15 696.00 350.90 C698.77 350.65 697.98 350.70 700.50 351.50 C703.02 352.30 708.83 355.20 711.10 355.70 C713.37 356.20 712.58 356.22 714.10 354.50 C715.62 352.78 718.58 347.32 720.20 345.40 C721.82 343.48 722.55 342.58 723.80 343.00 C725.05 343.42 726.62 346.50 727.70 347.90 C728.78 349.30 729.48 350.72 730.30 351.40 C731.12 352.08 731.83 352.47 732.60 352.00 C733.37 351.53 733.95 353.32 734.90 348.60 C735.85 343.88 736.98 333.90 738.30 323.70 C739.62 313.50 741.28 297.73 742.80 287.40 C744.32 277.07 745.88 268.25 747.40 261.70 C748.92 255.15 750.40 250.97 751.90 248.10 C753.40 245.23 754.92 244.50 756.40 244.50 C757.88 244.50 759.32 245.23 760.80 248.10 C762.28 250.97 763.80 255.15 765.30 261.70 C766.80 268.25 768.42 277.07 769.80 287.40 C771.18 297.73 772.47 313.87 773.60 323.70 C774.73 333.53 775.72 341.77 776.60 346.40 C777.48 351.03 778.05 350.75 778.90 351.50 C779.75 352.25 780.63 351.92 781.70 350.90 C782.77 349.88 784.18 346.72 785.30 345.40 C786.42 344.08 787.38 343.10 788.40 343.00 C789.42 342.90 790.15 343.28 791.40 344.80 C792.65 346.32 794.50 350.28 795.90 352.10 C797.30 353.92 798.28 355.40 799.80 355.70 C801.32 356.00 802.88 354.70 805.00 353.90 C807.12 353.10 810.23 351.35 812.50 350.90 C814.77 350.45 816.08 350.85 818.60 351.20 C821.12 351.55 824.33 351.85 827.60 353.00 C830.87 354.15 834.92 356.73 838.20 358.10 C841.48 359.47 843.02 360.23 847.30 361.20 C851.58 362.17 859.62 362.75 863.90 363.90 C868.18 365.05 869.47 365.63 873.00 368.10 C876.53 370.57 881.08 375.78 885.10 378.70 C889.12 381.62 893.83 383.33 897.10 385.60 C900.37 387.87 902.17 389.27 904.70 392.30 C907.23 395.33 910.03 399.37 912.30 403.80 C914.57 408.23 916.55 413.37 918.30 418.90 C920.05 424.43 921.53 429.95 922.80 437.00 C924.07 444.05 924.83 452.73 925.90 461.20 C926.97 469.67 928.65 483.37 929.20 487.80 L929.20 487.80 C929.70 484.62 931.20 474.65 932.20 468.70 C933.20 462.75 934.70 454.87 935.20 452.10" stroke="#f01818" stroke-width="2.1" stroke-linecap="butt"/>
<path d="M217.70 453.20 C218.22 451.40 219.58 445.58 220.80 442.40 C222.02 439.22 223.27 436.47 225.00 434.10 C226.73 431.73 229.03 429.25 231.20 428.20 C233.37 427.15 235.58 427.80 238.00 427.80 C240.42 427.80 243.20 427.92 245.70 428.20 C248.20 428.48 250.57 428.45 253.00 429.50 C255.43 430.55 257.70 432.53 260.30 434.50 C262.90 436.47 265.48 439.30 268.60 441.30 C271.72 443.30 276.57 445.45 279.00 446.50 C281.43 447.55 280.77 446.20 283.20 447.60 C285.63 449.00 291.18 453.68 293.60 454.90 C296.02 456.12 295.97 455.53 297.70 454.90 C299.43 454.27 301.57 450.87 304.00 451.10 C306.43 451.33 309.60 457.13 312.30 456.30 C315.00 455.47 317.78 447.87 320.20 446.10 C322.62 444.33 324.83 446.73 326.80 445.70 C328.77 444.67 330.53 440.52 332.00 439.90 C333.47 439.28 334.73 440.82 335.60 442.00 C336.47 443.18 336.93 446.17 337.20 447.00 L337.20 447.00 C337.48 446.85 337.85 448.95 338.90 446.10 C339.95 443.25 342.15 433.47 343.50 429.90 C344.85 426.33 345.90 424.70 347.00 424.70 C348.10 424.70 348.88 427.23 350.10 429.90 C351.32 432.57 352.80 439.13 354.30 440.70 C355.80 442.27 357.95 439.02 359.10 439.30 C360.25 439.58 360.17 439.28 361.20 442.40 C362.23 445.52 364.62 455.40 365.30 458.00 L365.30 458.00 C366.00 454.88 368.35 443.22 369.50 439.30 C370.65 435.38 371.17 435.48 372.20 434.50 C373.23 433.52 374.25 435.03 375.70 433.40 C377.15 431.77 380.03 426.15 380.90 424.70 L380.90 424.70 C381.28 425.83 382.22 423.38 383.20 431.50 C384.18 439.62 386.20 466.42 386.80 473.40 L386.80 473.40 C387.07 467.83 387.82 450.37 388.40 440.00 C388.98 429.63 389.47 419.82 390.30 411.20 C391.13 402.58 392.28 393.38 393.40 388.30 C394.52 383.22 395.80 380.70 397.00 380.70 C398.20 380.70 399.48 383.22 400.60 388.30 C401.72 393.38 402.90 402.58 403.70 411.20 C404.50 419.82 404.87 429.63 405.40 440.00 C405.93 450.37 406.65 467.83 406.90 473.40 L406.90 473.40 C407.48 466.42 409.38 439.62 410.40 431.50 C411.42 423.38 412.57 425.83 413.00 424.70 L413.00 424.70 C413.95 426.18 417.05 431.70 418.70 433.60 C420.35 435.50 421.23 432.03 422.90 436.10 C424.57 440.17 427.73 454.35 428.70 458.00 L428.70 458.00 C429.40 455.12 431.87 443.90 432.90 440.70 C433.93 437.50 433.87 438.77 434.90 438.80 C435.93 438.83 437.47 442.90 439.10 440.90 C440.73 438.90 443.32 429.50 444.70 426.80 C446.08 424.10 446.53 424.35 447.40 424.70 C448.27 425.05 448.62 425.27 449.90 428.90 C451.18 432.53 453.88 443.48 455.10 446.50 C456.32 449.52 456.85 446.92 457.20 447.00 L457.20 447.00 C457.88 445.95 460.08 441.65 461.30 440.70 C462.52 439.75 463.28 440.47 464.50 441.30 C465.72 442.13 466.87 444.90 468.60 445.70 C470.33 446.50 472.47 444.33 474.90 446.10 C477.33 447.87 480.53 455.47 483.20 456.30 C485.87 457.13 488.55 451.33 490.90 451.10 C493.25 450.87 495.47 454.27 497.30 454.90 C499.13 455.53 499.40 456.22 501.90 454.90 C504.40 453.58 510.05 448.40 512.30 447.00 C514.55 445.60 512.98 447.52 515.40 446.50 C517.82 445.48 523.50 442.97 526.80 440.90 C530.10 438.83 532.77 435.93 535.20 434.10 C537.63 432.27 538.98 430.92 541.40 429.90 C543.82 428.88 547.27 428.37 549.70 428.00 C552.13 427.63 553.92 427.70 556.00 427.70 C558.08 427.70 560.47 427.57 562.20 428.00 C563.93 428.43 564.83 428.77 566.40 430.30 C567.97 431.83 570.12 434.67 571.60 437.20 C573.08 439.73 574.10 440.13 575.30 445.50 C576.50 450.87 577.68 462.30 578.80 469.40 C579.92 476.50 581.47 484.98 582.00 488.10 L582.00 488.10 C582.52 483.95 583.90 471.87 585.10 463.20 C586.30 454.53 587.65 444.25 589.20 436.10 C590.75 427.95 592.48 420.18 594.40 414.30 C596.32 408.42 598.45 404.78 600.70 400.80 C602.95 396.82 605.62 392.93 607.90 390.40 C610.18 387.87 611.55 387.55 614.40 385.60 C617.25 383.65 621.22 381.57 625.00 378.70 C628.78 375.83 633.58 370.87 637.10 368.40 C640.62 365.93 641.57 365.15 646.10 363.90 C650.63 362.65 659.77 361.97 664.30 360.90 C668.83 359.83 670.03 358.82 673.30 357.50 C676.57 356.18 680.12 354.10 683.90 353.00 C687.68 351.90 693.23 351.15 696.00 350.90 C698.77 350.65 697.98 350.70 700.50 351.50 C703.02 352.30 708.83 355.20 711.10 355.70 C713.37 356.20 712.58 356.22 714.10 354.50 C715.62 352.78 718.58 347.32 720.20 345.40 C721.82 343.48 722.55 342.58 723.80 343.00 C725.05 343.42 726.62 346.50 727.70 347.90 C728.78 349.30 729.48 350.72 730.30 351.40 C731.12 352.08 731.83 352.47 732.60 352.00 C733.37 351.53 733.95 353.32 734.90 348.60 C735.85 343.88 736.98 333.90 738.30 323.70 C739.62 313.50 741.28 297.73 742.80 287.40 C744.32 277.07 745.88 268.25 747.40 261.70 C748.92 255.15 750.40 250.97 751.90 248.10 C753.40 245.23 754.92 244.50 756.40 244.50 C757.88 244.50 759.32 245.23 760.80 248.10 C762.28 250.97 763.80 255.15 765.30 261.70 C766.80 268.25 768.42 277.07 769.80 287.40 C771.18 297.73 772.47 313.87 773.60 323.70 C774.73 333.53 775.72 341.77 776.60 346.40 C777.48 351.03 778.05 350.75 778.90 351.50 C779.75 352.25 780.63 351.92 781.70 350.90 C782.77 349.88 784.18 346.72 785.30 345.40 C786.42 344.08 787.38 343.10 788.40 343.00 C789.42 342.90 790.15 343.28 791.40 344.80 C792.65 346.32 794.50 350.28 795.90 352.10 C797.30 353.92 798.28 355.40 799.80 355.70 C801.32 356.00 802.88 354.70 805.00 353.90 C807.12 353.10 810.23 351.35 812.50 350.90 C814.77 350.45 816.08 350.85 818.60 351.20 C821.12 351.55 824.33 351.85 827.60 353.00 C830.87 354.15 834.92 356.73 838.20 358.10 C841.48 359.47 843.02 360.23 847.30 361.20 C851.58 362.17 859.62 362.75 863.90 363.90 C868.18 365.05 869.47 365.63 873.00 368.10 C876.53 370.57 881.08 375.78 885.10 378.70 C889.12 381.62 893.83 383.33 897.10 385.60 C900.37 387.87 902.17 389.27 904.70 392.30 C907.23 395.33 910.03 399.37 912.30 403.80 C914.57 408.23 916.55 413.37 918.30 418.90 C920.05 424.43 921.53 429.95 922.80 437.00 C924.07 444.05 924.83 452.73 925.90 461.20 C926.97 469.67 928.65 483.37 929.20 487.80 L929.20 487.80 C929.70 484.62 931.20 474.65 932.20 468.70 C933.20 462.75 934.70 454.87 935.20 452.10" stroke="#0a6e0a" stroke-width="1.2" stroke-opacity="0.82"/>
</g>
<g font-size="13.6" fill="#000">
<text transform="translate(257.4 695) scale(0.885 1)" text-anchor="middle">-160</text>
<text transform="translate(321.1 695) scale(0.885 1)" text-anchor="middle">-128</text>
<text transform="translate(384.9 695) scale(0.885 1)" text-anchor="middle">-96</text>
<text transform="translate(448.6 695) scale(0.885 1)" text-anchor="middle">-64</text>
<text transform="translate(512.4 695) scale(0.885 1)" text-anchor="middle">-32</text>
<text transform="translate(576.6 695) scale(0.885 1)" text-anchor="middle">0</text>
<text transform="translate(640.4 695) scale(0.885 1)" text-anchor="middle">32</text>
<text transform="translate(704.1 695) scale(0.885 1)" text-anchor="middle">64</text>
<text transform="translate(767.9 695) scale(0.885 1)" text-anchor="middle">96</text>
<text transform="translate(831.6 695) scale(0.885 1)" text-anchor="middle">128</text>
<text transform="translate(895.4 695) scale(0.885 1)" text-anchor="middle">160</text>
<text transform="translate(200.2 249.6) scale(0.9 1)" text-anchor="end">0</text>
<text transform="translate(200.2 292.1) scale(0.9 1)" text-anchor="end">-5</text>
<text transform="translate(200.2 334.6) scale(0.9 1)" text-anchor="end">-10</text>
<text transform="translate(200.2 377.1) scale(0.9 1)" text-anchor="end">-15</text>
<text transform="translate(200.2 419.6) scale(0.9 1)" text-anchor="end">-20</text>
<text transform="translate(200.2 462.1) scale(0.9 1)" text-anchor="end">-25</text>
<text transform="translate(200.2 504.6) scale(0.9 1)" text-anchor="end">-30</text>
<text transform="translate(200.2 547.1) scale(0.9 1)" text-anchor="end">-35</text>
<text transform="translate(200.2 589.6) scale(0.9 1)" text-anchor="end">-40</text>
<text transform="translate(200.2 632.1) scale(0.9 1)" text-anchor="end">-45</text>
<text transform="translate(200.2 674.6) scale(0.9 1)" text-anchor="end">-50</text>
</g>
<text x="538.8" y="230" font-size="16" text-anchor="middle" fill="#111">po_pattern_cart_zx</text>
<text x="575.8" y="713.8" font-size="16" text-anchor="middle" fill="#111">theta</text>
<text transform="translate(142.3 437) rotate(-90)" font-size="16" text-anchor="middle" fill="#111">e_theta_db</text>
<path fill="#eeeeee" stroke="#3398ff" stroke-width="1.2" stroke-linejoin="round" d="M211.1 240.3 L215.3 248.3 H213.3 V253 Q211.1 255.6 208.9 253 V248.3 H206.9 Z"/>
<path fill="#eeeeee" stroke="#3398ff" stroke-width="1.2" stroke-linejoin="round" d="M211.1 675 L215.3 667 H213.3 V662.3 Q211.1 659.7 208.9 662.3 V667 H206.9 Z"/>
<path fill="#eeeeee" stroke="#3398ff" stroke-width="1.2" stroke-linejoin="round" d="M211.4 675 L219.4 670.8 V672.8 H224.1 Q226.7 675 224.1 677.2 H219.4 V679.2 Z"/>
<path fill="#eeeeee" stroke="#3398ff" stroke-width="1.2" stroke-linejoin="round" d="M941.8 675 L933.8 670.8 V672.8 H929.1 Q926.5 675 929.1 677.2 H933.8 V679.2 Z"/>
</svg>
<div id="legend" class="abs">
<div class="cb" style="top:4px"></div>
<svg class="abs" style="left:4px;top:5px" width="11" height="11" viewBox="0 0 11 11"><path d="M1.8 4.6 L4 7.2 L8.4 2.4" fill="none" stroke="#000" stroke-width="1.9"/></svg>
<div class="ln" style="top:9px;background:#ff0000"></div>
<div class="lg" style="top:4px">e_theta_db</div>
<div class="cb" style="top:21px"></div>
<svg class="abs" style="left:4px;top:22px" width="11" height="11" viewBox="0 0 11 11"><path d="M1.8 4.6 L4 7.2 L8.4 2.4" fill="none" stroke="#000" stroke-width="1.9"/></svg>
<div class="ln" style="top:26px;background:#7b7dbe"></div>
<div class="lg" style="top:21px">e_phi_db</div>
<div class="cb" style="top:38px"></div>
<svg class="abs" style="left:4px;top:39px" width="11" height="11" viewBox="0 0 11 11"><path d="M1.8 4.6 L4 7.2 L8.4 2.4" fill="none" stroke="#000" stroke-width="1.9"/></svg>
<div class="ln" style="top:43px;background:#72b072"></div>
<div class="lg" style="top:38px">e_total_db</div>
</div>
</body></html>
